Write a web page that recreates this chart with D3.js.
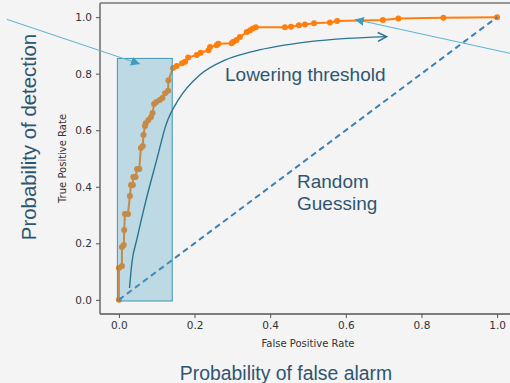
<!DOCTYPE html>
<html>
<head>
<meta charset="utf-8">
<script src="https://cdn.jsdelivr.net/npm/d3@7"></script>
<style>
  html, body { margin: 0; padding: 0; background: #f4f4f4; }
  svg { display: block; }
</style>
</head>
<body>
<script>
// ROC curve points (false positive rate, true positive rate)
const fpr = [0, 0, 0.008, 0.008, 0.013, 0.014, 0.016, 0.024, 0.029, 0.032, 0.037, 0.038, 0.044, 0.048, 0.054, 0.058, 0.063, 0.065, 0.069, 0.071, 0.078, 0.085, 0.089, 0.093, 0.099, 0.108, 0.115, 0.122, 0.130, 0.131, 0.143, 0.153, 0.167, 0.175, 0.183, 0.206, 0.216, 0.237, 0.241, 0.258, 0.263, 0.298, 0.303, 0.311, 0.320, 0.338, 0.347, 0.354, 0.362, 0.439, 0.455, 0.476, 0.492, 0.516, 0.558, 0.577, 0.698, 0.739, 0.858, 1.0];
const tpr = [0, 0.113, 0.120, 0.187, 0.194, 0.247, 0.304, 0.304, 0.367, 0.406, 0.406, 0.435, 0.435, 0.463, 0.463, 0.537, 0.544, 0.583, 0.615, 0.625, 0.636, 0.647, 0.661, 0.693, 0.700, 0.707, 0.714, 0.731, 0.740, 0.777, 0.820, 0.827, 0.837, 0.842, 0.857, 0.866, 0.874, 0.883, 0.894, 0.901, 0.906, 0.908, 0.913, 0.919, 0.930, 0.947, 0.954, 0.960, 0.964, 0.964, 0.966, 0.971, 0.974, 0.978, 0.981, 0.986, 0.990, 0.995, 0.998, 1.0];

// random-guess diagonal
const randomX = [0, 1];
const randomY = [0, 1];

// tick values / labels
const tickValues = [0, 0.2, 0.4, 0.6, 0.8, 1.0];

// annotation geometry (data space)
const highlightX = [-0.004, 0.141];
const highlightY = [-0.004, 0.854];
const thresholdCurveX = [0.028, 0.0346, 0.0471, 0.0717, 0.0999, 0.1245, 0.157, 0.2144, 0.2805, 0.3466, 0.4788, 0.708];
const thresholdCurveY = [0.042, 0.134, 0.212, 0.353, 0.495, 0.619, 0.707, 0.796, 0.848, 0.876, 0.909, 0.931];
const pointerLeftX = [-0.296, 0.0558];
const pointerLeftY = [0.992, 0.834];
const pointerRightX = [1.034, 0.624];
const pointerRightY = [0.872, 0.992];

const W = 510, H = 383;
const svg = d3.select("body").append("svg").attr("width", W).attr("height", H);
svg.append("rect").attr("width", W).attr("height", H).attr("fill", "#f4f4f4");

const x = d3.scaleLinear().domain([-0.05, 1.05]).range([100, 516]);
const y = d3.scaleLinear().domain([-0.05, 1.05]).range([314, 3]);

const defs = svg.append("defs");
defs.append("marker").attr("id", "tri").attr("viewBox", "0 0 10 10")
  .attr("refX", 10).attr("refY", 5).attr("markerWidth", 9).attr("markerHeight", 9)
  .attr("markerUnits", "userSpaceOnUse").attr("orient", "auto")
  .append("path").attr("d", "M0,0 L10,5 L0,10 z").attr("fill", "#3d9cc0");
defs.append("marker").attr("id", "chev").attr("viewBox", "0 0 10 10")
  .attr("refX", 9).attr("refY", 5).attr("markerWidth", 11).attr("markerHeight", 11)
  .attr("markerUnits", "userSpaceOnUse").attr("orient", "auto")
  .append("path").attr("d", "M1,1 L9,5 L1,9").attr("fill", "none")
  .attr("stroke", "#2a7490").attr("stroke-width", 1.4);

// ROC curve
const roc = fpr.map((f, i) => [f, tpr[i]]);
const line = d3.line().x(d => x(d[0])).y(d => y(d[1]));
svg.append("path").datum(roc).attr("d", line)
  .attr("fill", "none").attr("stroke", "#ff7f0e").attr("stroke-width", 2);
svg.append("g").selectAll("circle").data(roc).join("circle")
  .attr("cx", d => x(d[0])).attr("cy", d => y(d[1])).attr("r", 3)
  .attr("fill", "#ff7f0e");

// random guess dashed line
svg.append("path").datum(randomX.map((v, i) => [v, randomY[i]])).attr("d", line)
  .attr("fill", "none").attr("stroke", "#3a80b6").attr("stroke-width", 2)
  .attr("stroke-dasharray", "6,4");

// highlight rectangle
svg.append("rect")
  .attr("x", x(highlightX[0])).attr("y", y(highlightY[1]))
  .attr("width", x(highlightX[1]) - x(highlightX[0]))
  .attr("height", y(highlightY[0]) - y(highlightY[1]))
  .attr("fill", "#4aa2c2").attr("fill-opacity", 0.32)
  .attr("stroke", "#3f97b6").attr("stroke-width", 1);

// lowering-threshold arrow
const tc = thresholdCurveX.map((v, i) => [v, thresholdCurveY[i]]);
svg.append("path").datum(tc)
  .attr("d", d3.line().x(d => x(d[0])).y(d => y(d[1])).curve(d3.curveMonotoneX))
  .attr("fill", "none").attr("stroke", "#2a7490").attr("stroke-width", 1.4)
  .attr("marker-end", "url(#chev)");

// spines
svg.append("line").attr("x1", 100).attr("x2", 100).attr("y1", y(1.05)).attr("y2", y(-0.05))
  .attr("stroke", "#555").attr("stroke-width", 1.3);
svg.append("line").attr("x1", 100).attr("x2", 516).attr("y1", y(-0.05)).attr("y2", y(-0.05))
  .attr("stroke", "#555").attr("stroke-width", 1.3);
svg.append("line").attr("x1", 100).attr("x2", 516).attr("y1", y(1.05)).attr("y2", y(1.05))
  .attr("stroke", "#777").attr("stroke-width", 1.6);

// axes
const fmt = d3.format(".1f");
const gx = svg.append("g").attr("transform", `translate(0,${y(-0.05)})`)
  .call(d3.axisBottom(x).tickValues(tickValues).tickFormat(fmt).tickSize(4).tickSizeOuter(0).tickPadding(4));
const gy = svg.append("g").attr("transform", `translate(100,0)`)
  .call(d3.axisLeft(y).tickValues(tickValues).tickFormat(fmt).tickSize(4).tickSizeOuter(0).tickPadding(4));
[gx, gy].forEach(g => {
  g.select(".domain").remove();
  g.selectAll("line").attr("stroke", "#555").attr("stroke-width", 1);
  g.selectAll("text").attr("font-family", "DejaVu Sans").attr("font-size", 10.5).attr("fill", "#333");
});

svg.append("text").attr("x", 308).attr("y", 347).attr("text-anchor", "middle")
  .attr("font-family", "DejaVu Sans").attr("font-size", 10).attr("fill", "#333")
  .text("False Positive Rate");
svg.append("text").attr("transform", `translate(66,${(y(1.05) + y(-0.05)) / 2}) rotate(-90)`)
  .attr("text-anchor", "middle")
  .attr("font-family", "DejaVu Sans").attr("font-size", 10).attr("fill", "#333")
  .text("True Positive Rate");

// pointer arrows (light blue)
[[pointerLeftX, pointerLeftY], [pointerRightX, pointerRightY]].forEach(([px, py]) => {
  svg.append("line").attr("x1", x(px[0])).attr("y1", y(py[0]))
    .attr("x2", x(px[1])).attr("y2", y(py[1]))
    .attr("stroke", "#5ab2d2").attr("stroke-width", 1)
    .attr("marker-end", "url(#tri)");
});

// slide annotations
const txtColor = "#2f5670";
const big = "Liberation Sans, Arial, sans-serif";
svg.append("text").attr("x", 225).attr("y", 81).attr("font-family", big).attr("font-size", 19)
  .attr("fill", txtColor).text("Lowering threshold");
svg.append("text").attr("x", 297).attr("y", 188).attr("font-family", big).attr("font-size", 19)
  .attr("fill", txtColor).text("Random");
svg.append("text").attr("x", 297).attr("y", 210).attr("font-family", big).attr("font-size", 19)
  .attr("fill", txtColor).text("Guessing");
svg.append("text").attr("x", 286).attr("y", 380).attr("text-anchor", "middle")
  .attr("font-family", big).attr("font-size", 19.4).attr("fill", txtColor)
  .text("Probability of false alarm");
svg.append("text").attr("transform", `translate(36,137) rotate(-90)`).attr("text-anchor", "middle")
  .attr("font-family", big).attr("font-size", 20.4).attr("fill", txtColor)
  .text("Probability of detection");
</script>
</body>
</html>
